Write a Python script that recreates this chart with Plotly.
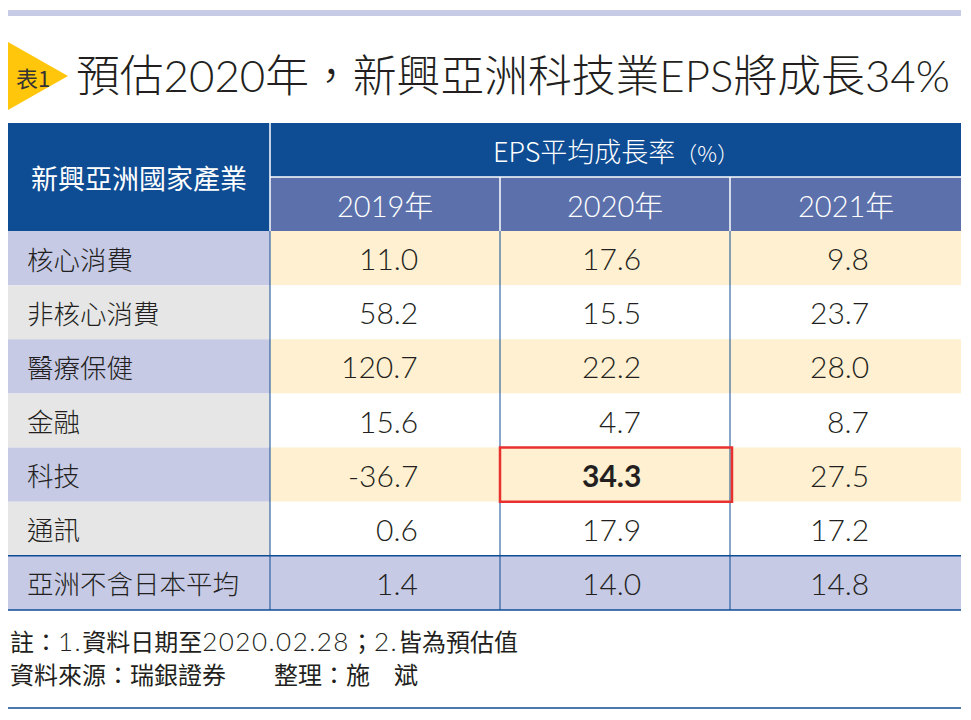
import plotly.graph_objects as go

# ---------------- data ----------------
title_tag = "表1"
title_text = "預估2020年，新興亞洲科技業EPS將成長34%"
corner_header = "新興亞洲國家產業"
group_header = "EPS平均成長率"
group_unit = "（%）"
years = ["2019年", "2020年", "2021年"]
industries = ["核心消費", "非核心消費", "醫療保健", "金融", "科技", "通訊", "亞洲不含日本平均"]
eps_2019 = ["11.0", "58.2", "120.7", "15.6", "-36.7", "0.6", "1.4"]
eps_2020 = ["17.6", "15.5", "22.2", "4.7", "34.3", "17.9", "14.0"]
eps_2021 = ["9.8", "23.7", "28.0", "8.7", "27.5", "17.2", "14.8"]
highlight = ("科技", "2020年")
note_parts1 = ["註：", "1.", "資料日期至", "2020.02.28", "；", "2.", "皆為預估值"]
note_line2 = "資料來源：瑞銀證券　　整理：施　斌"

# ---------------- style / layout ----------------
W, H = 971, 720
PAGE_OFFSET = 8  # default page body margin
FONT = "Lato, 'Noto Sans CJK TC', sans-serif"
CJK = "'Noto Sans CJK TC', sans-serif"
DARK_BLUE = "#0E4C94"
MID_BLUE = "#5C71AB"
LAVENDER = "#C6CAE5"
GREY = "#E6E6E6"
CREAM = "#FEF0D0"
WHITE = "#FFFFFF"
TEXT = "#231F20"
RED = "#E8312F"
YELLOW = "#FFC60B"

col_edges = [8, 270, 500, 730, 961]
num_right_offset = [35, 28, 25]
head_top, head_mid, head_bot = 123, 177, 231
body_bot = 610
n_rows = len(industries)
row_h = (body_bot - head_bot) / n_rows
row_edges = [head_bot + i * row_h for i in range(n_rows + 1)]

shapes = []
ann = []

def rect(x0, y0, x1, y1, fill, line_color=None, lw=0):
    shapes.append(dict(type="rect", x0=x0, y0=y0, x1=x1, y1=y1, xref="x", yref="y",
                       fillcolor=fill, line=dict(color=line_color or fill, width=lw), layer="below"))

def line(x0, y0, x1, y1, color, lw):
    shapes.append(dict(type="line", x0=x0, y0=y0, x1=x1, y1=y1, xref="x", yref="y",
                       line=dict(color=color, width=lw), layer="above"))

def text(x, y, s, size, color=TEXT, xa="left", family=FONT, weight="normal"):
    ann.append(dict(x=x, y=y, xref="x", yref="y", text=s, showarrow=False, xanchor=xa,
                    yanchor="middle", font=dict(size=size, color=color, family=family, weight=weight)))

# top bar
rect(col_edges[0], 10, col_edges[-1], 16, "#C8CBE6")
# title triangle
shapes.append(dict(type="path", path="M 8 42 L 68 76 L 8 110 Z", xref="x", yref="y",
                   fillcolor=YELLOW, line=dict(width=0)))
text(14, 77, title_tag, 22, color="#333333", family=CJK)
text(74, 75, title_text, 43.8, family=FONT, weight=300)

# header
rect(col_edges[0], head_top, col_edges[-1], head_mid, DARK_BLUE)
rect(col_edges[0], head_mid, col_edges[1], head_bot, DARK_BLUE)
rect(col_edges[1], head_mid, col_edges[-1], head_bot, MID_BLUE)
text((col_edges[0] + col_edges[1]) / 2, (head_top + head_bot) / 2, corner_header, 27,
     color=WHITE, xa="center", family=CJK)
text((col_edges[1] + col_edges[-1]) / 2, (head_top + head_mid) / 2,
     group_header + "<span style='font-size:22px'>" + group_unit + "</span>", 27,
     color=WHITE, xa="center", family=CJK, weight=300)
for j, y in enumerate(years):
    text((col_edges[j + 1] + col_edges[j + 2]) / 2, (head_mid + head_bot) / 2 + 1, y, 29,
         color=WHITE, xa="center", weight=300)

# body
cols = [eps_2019, eps_2020, eps_2021]
for i, name in enumerate(industries):
    y0, y1 = row_edges[i], row_edges[i + 1]
    last = i == n_rows - 1
    if last:
        lab_fill, dat_fill = LAVENDER, LAVENDER
    elif i % 2 == 0:
        lab_fill, dat_fill = LAVENDER, CREAM
    else:
        lab_fill, dat_fill = GREY, WHITE
    rect(col_edges[0], y0, col_edges[1], y1, lab_fill)
    rect(col_edges[1], y0, col_edges[-1], y1, dat_fill)
    yc = (y0 + y1) / 2
    text(25, yc, name, 26.5, family=CJK, weight=300)
    for j, vals in enumerate(cols):
        cx = (col_edges[j + 1] + col_edges[j + 2]) / 2
        bold = (name == highlight[0] and years[j] == highlight[1])
        text(cx + num_right_offset[j], yc, vals[i], 30, xa="right",
             weight="bold" if bold else 300)

# grid lines
line(col_edges[1], head_top, col_edges[1], head_bot, WHITE, 1.5)
line(col_edges[1], head_mid, col_edges[-1], head_mid, WHITE, 1.5)
for x in col_edges[2:-1]:
    line(x, head_mid, x, head_bot, WHITE, 1.5)
for x in col_edges[1:-1]:
    line(x, head_bot, x, body_bot, DARK_BLUE, 1)
line(col_edges[0], row_edges[-2], col_edges[-1], row_edges[-2], DARK_BLUE, 1.5)
line(col_edges[0], body_bot, col_edges[-1], body_bot, DARK_BLUE, 1.5)

# highlight box
hi = industries.index(highlight[0])
hj = years.index(highlight[1])
shapes.append(dict(type="rect", x0=col_edges[hj + 1], x1=col_edges[hj + 2] + 2,
                   y0=row_edges[hi], y1=row_edges[hi + 1], xref="x", yref="y",
                   fillcolor="rgba(0,0,0,0)", line=dict(color=RED, width=2.5), layer="above"))

# footer
latin_style = "<span style='font-family:Lato;font-size:26px;font-weight:300;letter-spacing:1.5px'>%s</span>"
note_line1 = "".join(latin_style % p if p[0].isdigit() else p for p in note_parts1)
text(8, 640, note_line1, 24, family=CJK)
text(8, 673, note_line2, 24, family=CJK)
line(col_edges[0], 708, col_edges[-1], 708, DARK_BLUE, 1.5)

fig = go.Figure()
fig.update_layout(
    width=W - PAGE_OFFSET, height=H - PAGE_OFFSET, margin=dict(l=0, r=0, t=0, b=0),
    paper_bgcolor=WHITE, plot_bgcolor=WHITE,
    xaxis=dict(range=[PAGE_OFFSET, W], visible=False, fixedrange=True),
    yaxis=dict(range=[H, PAGE_OFFSET], visible=False, fixedrange=True),
    shapes=shapes, annotations=ann, showlegend=False,
)
fig.write_html("out.html", config={"displayModeBar": False})
